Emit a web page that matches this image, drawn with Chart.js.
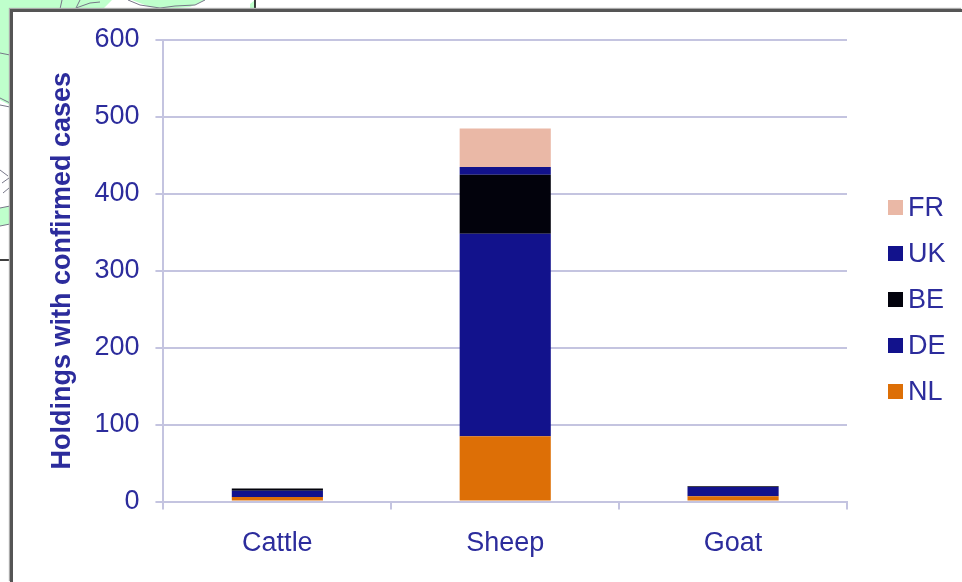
<!DOCTYPE html>
<html>
<head>
<meta charset="utf-8">
<script src="https://cdn.jsdelivr.net/npm/chart.js@4"></script>
<style>
  html, body { margin: 0; padding: 0; background: #fff; overflow: hidden; }
  #page { position: relative; width: 962px; height: 582px; }
  #map { position: absolute; left: 0; top: 0; filter: blur(0.4px); }
  #frame { position: absolute; left: 10px; top: 9px; width: 952px; height: 573px; background: #fff;
    border-left: 3px solid #555; border-top: 3px solid #555; box-sizing: border-box; box-shadow: -1px -1px 1px #aaa; }
  #chartBox { position: absolute; left: 13px; top: 12px; width: 949px; height: 570px; filter: blur(0.5px); }
  #legend { position: absolute; left: 888px; top: 184px; margin: 0; padding: 0; list-style: none; filter: blur(0.5px);
    font: 27px 'Liberation Sans', sans-serif; color: #2c2c9c; }
  #legend li { display: flex; align-items: center; height: 46px; }
  #legend span { display: block; width: 15px; height: 15px; margin-right: 5px; }
</style>
</head>
<body>
<div id="page">
  <svg id="map" width="962" height="582">
    <g fill="#bfffcc" stroke="none">
      <polygon points="0,0 112,0 103,9 10,9 10,105 0,100"/>
      <polygon points="0,208 10,206 10,224 0,226"/>
      <polygon points="132,0 205,0 190,7 165,9 150,7"/>
      <polygon points="250,4 255,0 255,9 250,9"/>
    </g>
    <g fill="none" stroke="#778" stroke-width="1">
      <path d="M0,53 L10,55 M0,98 L10,103 M0,105 L10,107"/>
      <path d="M62,0 L60,9 M80,0 L76,8 L90,3 L100,2"/>
      <path d="M128,0 L140,5 L160,8 L175,6 L195,5 L205,0"/>
      <path d="M0,170 L8,176 M2,183 L9,178 M3,193 L9,188"/>
      <path d="M0,208 L10,206 M0,226 L10,224"/>
    </g>
    <g stroke="#000" stroke-width="1.5">
      <path d="M255,0 V9 M0,260 H10"/>
    </g>
  </svg>
  <div id="frame"></div>
  <div id="chartBox"><canvas id="chart"></canvas></div>
  <ul id="legend"></ul>
</div>
<script>
const categories = ['Cattle', 'Sheep', 'Goat'];
const nl = [6, 85, 7];
const de = [8, 263, 12];
const be = [3, 77, 1];
const uk = [0, 10, 0];
const fr = [0, 50, 0];
const blue = '#2c2c9c';
const gridColor = '#c4c4e0';

const datasets = [
  { label: 'NL', data: nl, backgroundColor: '#dd6f06' },
  { label: 'DE', data: de, backgroundColor: '#12128c' },
  { label: 'BE', data: be, backgroundColor: '#02020c' },
  { label: 'UK', data: uk, backgroundColor: '#12128c' },
  { label: 'FR', data: fr, backgroundColor: '#eab8a6' }
];

new Chart(document.getElementById('chart'), {
  type: 'bar',
  data: { labels: categories, datasets },
  options: {
    responsive: true,
    maintainAspectRatio: false,
    animation: false,
    barPercentage: 0.4,
    categoryPercentage: 1,
    layout: { padding: { top: 28, left: 33, right: 115, bottom: 4 } },
    scales: {
      x: {
        stacked: true,
        grid: { drawOnChartArea: false, color: gridColor, lineWidth: 2, tickLength: 8 },
        border: { color: gridColor, width: 2 },
        ticks: { color: blue, font: { family: 'Liberation Sans', size: 27 }, padding: 18 }
      },
      y: {
        stacked: true,
        min: 0,
        max: 600,
        // tick padding would otherwise push the plot top down
        afterFit: scale => { scale.paddingTop = 0; },
        grid: { color: gridColor, lineWidth: 2, tickLength: 8 },
        border: { color: gridColor, width: 2 },
        ticks: { stepSize: 100, color: blue, font: { family: 'Liberation Sans', size: 27 }, padding: 16 },
        title: {
          display: true,
          text: 'Holdings with confirmed cases',
          color: blue,
          font: { family: 'Liberation Sans', size: 27, weight: 'bold' },
          padding: { top: 0, bottom: 0 }
        }
      }
    },
    plugins: {
      title: { display: false },
      tooltip: { enabled: false },
      legend: { display: false }
    }
  }
});

// legend sits further from the plot than the built-in one allows
const legendEl = document.getElementById('legend');
legendEl.innerHTML = datasets.slice().reverse().map(d =>
  `<li><span style="background:${d.backgroundColor}"></span>${d.label}</li>`
).join('');
</script>
</body>
</html>
